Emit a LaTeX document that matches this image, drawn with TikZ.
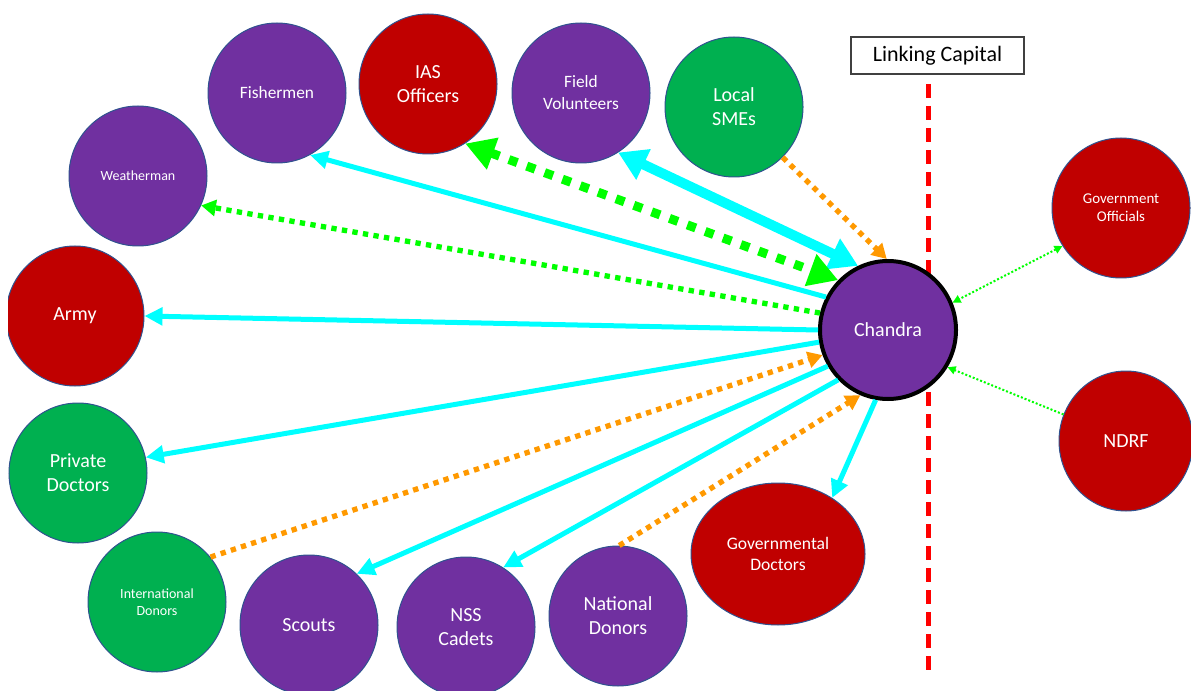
\documentclass[tikz,border=0pt]{standalone}
\usepackage{fontspec}
\setmainfont{Carlito}
\usetikzlibrary{shapes.geometric,arrows.meta}
\definecolor{hubpurple}{HTML}{7030A0}
\definecolor{govred}{HTML}{C00000}
\definecolor{pvtgreen}{HTML}{00B050}
\definecolor{rimblue}{HTML}{2F528F}
\definecolor{tiecyan}{HTML}{00FFFF}
\definecolor{tiegreen}{HTML}{00FF00}
\definecolor{tieorange}{HTML}{FF9900}
\definecolor{dividered}{HTML}{FF0000}
\begin{document}
\begin{tikzpicture}[x=0.75pt,y=-0.75pt,
  actor/.style={ellipse, draw=rimblue, line width=0.75pt, text=white, align=center,
    inner sep=0pt, minimum width=103.5pt, minimum height=105pt},
  purplebox/.style={actor, fill=hubpurple},
  redbox/.style={actor, fill=govred},
  greenbox/.style={actor, fill=pvtgreen},
  bigtext/.style={font=\fontsize{15}{18}\selectfont},
  midtext/.style={font=\fontsize{13}{16.5}\selectfont},
  smalltext/.style={font=\fontsize{10.5}{13}\selectfont},
  cyanlink/.style={draw=tiecyan, line width=3.75pt, -{Triangle[length=13.5pt,width=13pt]}},
  cyanwide/.style={draw=tiecyan, line width=7.5pt,
    {Triangle[length=21pt,width=24pt]}-{Triangle[length=21pt,width=24pt]}},
  greenwide/.style={draw=tiegreen, line width=6.75pt, dash pattern=on 6.75pt off 7.5pt,
    {Triangle[length=22pt,width=24pt]}-{Triangle[length=22pt,width=24pt]}},
  greendots/.style={draw=tiegreen, line width=4pt, dash pattern=on 4pt off 4pt,
    -{Triangle[length=11pt,width=12pt]}},
  greenthin/.style={draw=tiegreen, line width=1.5pt, dash pattern=on 1.5pt off 1.5pt},
  thintip/.style={-{Triangle[length=6pt,width=6pt]}},
  orangedots/.style={draw=tieorange, line width=4pt, dash pattern=on 4pt off 4pt,
    -{Triangle[length=11pt,width=12pt]}},
  dividerline/.style={draw=dividered, line width=3.75pt, dash pattern=on 10.5pt off 6pt},
  tagbox/.style={draw=black!75, line width=1pt, fill=white, inner sep=0pt,
    minimum width=129.75pt, minimum height=27.75pt, font=\fontsize{16.5}{19}\selectfont}
]
\useasboundingbox (0,0) rectangle (1191,691);

% the actors around the hub
\node[purplebox, smalltext] (weather) at (138,176) {Weatherman};
\node[purplebox, midtext] (fish) at (277,93) {Fishermen};
\node[redbox, bigtext] (ias) at (428,84) {IAS\\Officers};
\node[purplebox, midtext] (fv) at (581,93) {Field\\Volunteers};
\node[greenbox, bigtext] (sme) at (734,107) {Local\\SMEs};
\begin{scope}
  \clip (8,0) rectangle (1191,691);
  \node[redbox, bigtext] (army) at (75,316) {Army};
\end{scope}
\node[greenbox, bigtext] (pdoc) at (78,473) {Private\\Doctors};
\node[greenbox, font=\fontsize{10.5}{12.75}\selectfont] (intl) at (157,602) {International\\Donors};
\node[purplebox, bigtext] (scouts) at (309,625) {Scouts};
\node[purplebox, bigtext] (nss) at (466,627) {NSS\\Cadets};
\node[purplebox, bigtext] (natl) at (618,616) {National\\Donors};
\node[redbox, font=\fontsize{13.2}{15.75}\selectfont, minimum width=130.5pt, minimum height=106.5pt] (gdoc) at (778,554) {Governmental\\Doctors};
\node[redbox, font=\fontsize{11.2}{13.5}\selectfont] (gov) at (1121,208) {Government\\Officials};
\node[redbox, bigtext, minimum width=100.5pt] (ndrf) at (1126,441) {NDRF};

% the linking-capital divide, passing behind the hub
\node[tagbox] (tag) at (937.5,55.5) {Linking Capital};
\coordinate (divtop) at (928,84);
\coordinate (divbot) at (928,670);
\draw[dividerline] (divtop) -- (divbot);

% the hub
\node[ellipse, fill=hubpurple, draw=black, line width=3pt, text=white, inner sep=0pt,
  minimum width=102pt, minimum height=103.5pt, bigtext] (ch) at (888,330) {Chandra};

% ties from the hub
\draw[cyanlink] (ch.152) -- (fish.-62);
\draw[cyanlink] (ch.180) -- (army.0);
\draw[cyanlink] (ch.190) -- (pdoc.13);
\draw[cyanlink] (ch.211) -- (scouts.47);
\draw[cyanlink] (ch.225) -- (nss.58);
\draw[cyanlink] (ch.260) -- (gdoc.46);
\draw[cyanwide] (fv.-58) -- (ch.115);
\draw[greenwide] (ias.-58) -- (ch.135);
\draw[greendots] (ch.166) -- (weather.-25);
\draw[greenthin, {Triangle[length=6pt,width=6pt]}-{Triangle[length=6pt,width=6pt]}] (gov.213) -- (ch.23);
\draw[greenthin, thintip] (ndrf.157) -- (ch.-32);
\draw[orangedots] (sme.-46) -- (ch.91);
\draw[orangedots] (intl.40) -- (ch.201);
\draw[orangedots] (natl.89) -- (ch.247);
\end{tikzpicture}
\end{document}
